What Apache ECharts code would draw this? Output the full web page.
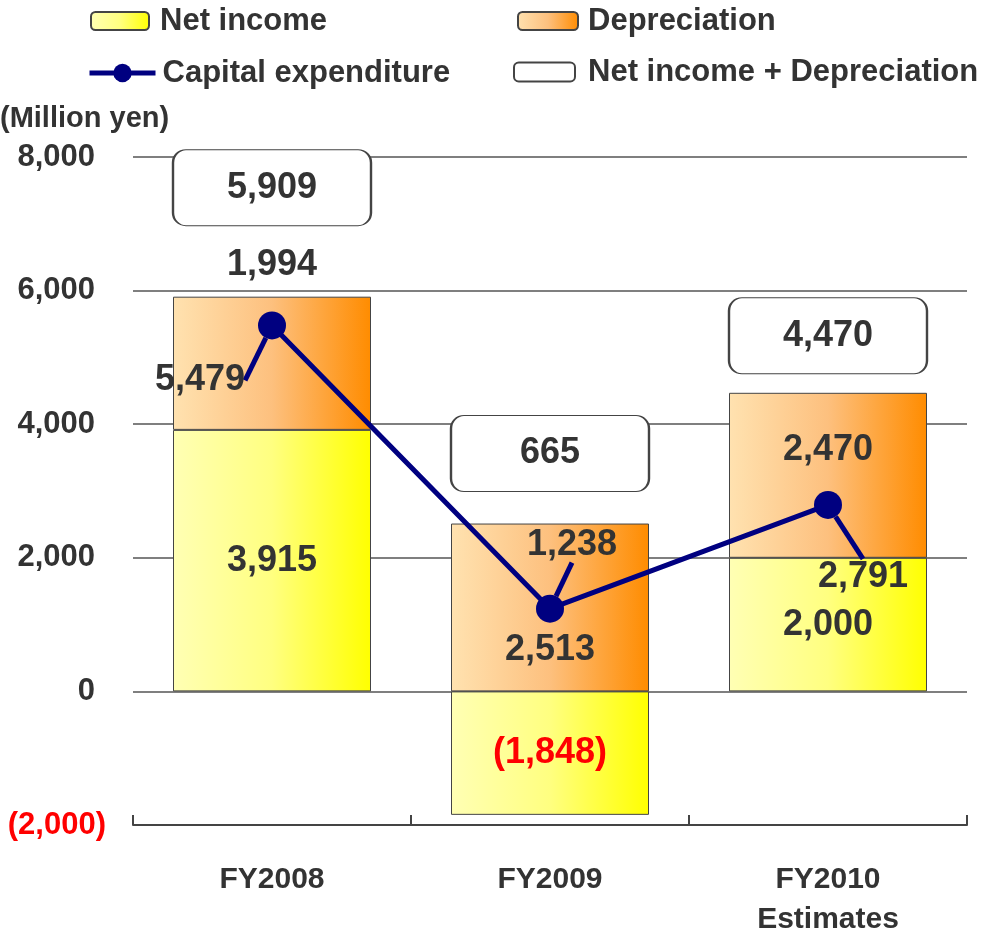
<!DOCTYPE html>
<html>
<head>
<meta charset="utf-8">
<script src="https://cdn.jsdelivr.net/npm/echarts@6/dist/echarts.min.js"></script>
<style>
  html, body { margin: 0; padding: 0; background: #fff; }
  #main { width: 998px; height: 937px; }
</style>
</head>
<body>
<div id="main"></div>
<script>
// data (million yen)
const years = ['FY2008', 'FY2009', 'FY2010\nEstimates'];
const netIncome = [3915, -1848, 2000];
const depreciation = [1994, 2513, 2470];
const capex = [5479, 1238, 2791];
const yTicks = [-2000, 0, 2000, 4000, 6000, 8000];

const FONT = '"Liberation Sans", Arial, sans-serif';
const TEXT = '#333333';

function fmt(v) {
  return v < 0 ? '(' + Math.abs(v).toLocaleString('en-US') + ')' : v.toLocaleString('en-US');
}

// net income + depreciation, box sits above the top of the stack
const totals = netIncome.map((v, i) => v + depreciation[i]);
const stackTop = netIncome.map((v, i) => Math.max(v, 0) + Math.max(depreciation[i], 0));
const boxOffset = [-109, -70, -57];
const depLabel = [
  { position: 'top', distance: 14 },
  { position: 'inside', offset: [0, 43] },
  { position: 'inside', offset: [0, -25] }
];
const capexShift = [[-72, 55], [22, -64], [35, 72]];

const chart = echarts.init(document.getElementById('main'));

const yellow = new echarts.graphic.LinearGradient(0, 0, 1, 0, [
  { offset: 0, color: '#FFFFB4' },
  { offset: 0.5, color: '#FFFF80' },
  { offset: 1, color: '#FFFF00' }
]);
const orange = new echarts.graphic.LinearGradient(0, 0, 1, 0, [
  { offset: 0, color: '#FFE2B0' },
  { offset: 0.5, color: '#FDC07E' },
  { offset: 1, color: '#FF8C00' }
]);

const labelFont = { fontFamily: FONT, fontWeight: 'bold', fontSize: 36, color: TEXT };
const tickFont = { fontFamily: FONT, fontWeight: 'bold', fontSize: 31 };

function legendAt(left, top, item, w, h, gap) {
  return {
    left: left,
    top: top,
    padding: 0,
    itemWidth: w,
    itemHeight: h,
    textStyle: {
      fontFamily: FONT, fontWeight: 'bold', fontSize: 31, color: TEXT,
      lineHeight: 34, padding: [0, 0, 0, gap]
    },
    data: [item]
  };
}

const option = {
  animation: false,
  textStyle: { fontFamily: FONT },
  title: {
    text: '(Million yen)',
    left: 0,
    top: 104,
    padding: 0,
    textStyle: { fontFamily: FONT, fontWeight: 'bold', fontSize: 29, color: TEXT }
  },
  legend: [
    legendAt(90, 4, 'Net income', 58, 18, 6),
    legendAt(87, 56, { name: 'Capital expenditure', lineStyle: { width: 5 } }, 66, 23, 2),
    legendAt(517, 4, 'Depreciation', 60, 18, 5),
    legendAt(513, 55, { name: 'Net income + Depreciation', icon: 'roundRect' }, 61, 19, 8)
  ],
  grid: { left: 133, right: 31, top: 157, bottom: 112, outerBoundsMode: 'none' },
  xAxis: {
    type: 'category',
    data: years,
    position: 'bottom',
    axisLine: { onZero: false, lineStyle: { color: '#444', width: 2 } },
    axisTick: { show: true, inside: true, length: 10, lineStyle: { color: '#444', width: 2 } },
    axisLabel: {
      margin: 35,
      fontFamily: FONT,
      fontWeight: 'bold',
      fontSize: 30,
      lineHeight: 40,
      color: TEXT
    }
  },
  yAxis: {
    type: 'value',
    min: yTicks[0],
    max: yTicks[yTicks.length - 1],
    interval: 2000,
    axisLine: { show: false },
    axisTick: { show: false },
    splitLine: { lineStyle: { color: '#555', width: 1.5 } },
    axisLabel: {
      margin: 27,
      formatter: v => (v < 0 ? '{neg|' : '{pos|') + fmt(v) + '}',
      rich: {
        pos: Object.assign({ color: TEXT, padding: [0, 11, 0, 0] }, tickFont),
        neg: Object.assign({ color: '#FF0000' }, tickFont)
      }
    }
  },
  series: [
    {
      name: 'Net income',
      type: 'bar',
      stack: 'cf',
      barWidth: 198,
      itemStyle: { color: yellow, borderColor: '#444', borderWidth: 1 },
      label: Object.assign({
        show: true,
        position: 'inside',
        formatter: p => fmt(p.value)
      }, labelFont),
      data: netIncome.map(v => ({
        value: v,
        label: { color: v < 0 ? '#FF0000' : TEXT }
      }))
    },
    {
      name: 'Depreciation',
      type: 'bar',
      stack: 'cf',
      barWidth: 198,
      itemStyle: { color: orange, borderColor: '#444', borderWidth: 1 },
      label: Object.assign({ show: true, formatter: p => fmt(p.value) }, labelFont),
      data: depreciation.map((v, i) => ({ value: v, label: depLabel[i] }))
    },
    {
      name: 'Net income + Depreciation',
      type: 'scatter',
      z: 4,
      symbol: 'path://M13,0H185A13,13,0,0,1,198,13V63A13,13,0,0,1,185,76H13A13,13,0,0,1,0,63V13A13,13,0,0,1,13,0Z',
      symbolSize: [198, 76],
      itemStyle: { color: '#fff', borderColor: '#444', borderWidth: 1.5, opacity: 1 },
      label: Object.assign({
        show: true,
        position: 'inside',
        formatter: p => fmt(totals[p.dataIndex])
      }, labelFont),
      emphasis: { disabled: true },
      data: stackTop.map((v, i) => ({ value: [i, v], symbolOffset: [0, boxOffset[i]] }))
    },
    {
      name: 'Capital expenditure',
      type: 'line',
      z: 5,
      data: capex,
      symbol: 'circle',
      symbolSize: 28,
      lineStyle: { color: '#000080', width: 5 },
      itemStyle: { color: '#000080' },
      label: Object.assign({
        show: true,
        position: 'inside',
        formatter: p => fmt(p.value)
      }, labelFont),
      labelLine: { show: true, lineStyle: { color: '#000080', width: 5 } },
      labelLayout: function (params) {
        const s = capexShift[params.dataIndex];
        return { dx: s[0], dy: s[1] };
      }
    }
  ]
};

chart.setOption(option);
</script>
</body>
</html>
